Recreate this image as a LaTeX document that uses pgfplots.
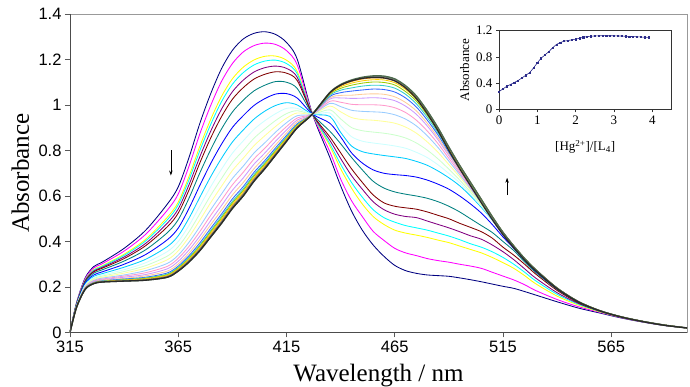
\documentclass[border=0pt]{standalone}
\usepackage{fontspec}
\setmainfont{Liberation Sans}
\newfontfamily\timesfont{Liberation Serif}
\usepackage{pgfplots}
\usepackage{pgfplotstable}
\pgfplotsset{compat=1.18}
\usetikzlibrary{arrows.meta}

\definecolor{col1}{HTML}{000080}
\definecolor{col2}{HTML}{FF00FF}
\definecolor{col3}{HTML}{FFFF00}
\definecolor{col4}{HTML}{00FFFF}
\definecolor{col5}{HTML}{800080}
\definecolor{col6}{HTML}{800000}
\definecolor{col7}{HTML}{008080}
\definecolor{col8}{HTML}{0000FF}
\definecolor{col9}{HTML}{00CCFF}
\definecolor{col10}{HTML}{CCFFFF}
\definecolor{col11}{HTML}{CCFFCC}
\definecolor{col12}{HTML}{FFFF99}
\definecolor{col13}{HTML}{99CCFF}
\definecolor{col14}{HTML}{FF99CC}
\definecolor{col15}{HTML}{CC99FF}
\definecolor{col16}{HTML}{FFCC99}
\definecolor{col17}{HTML}{3366FF}
\definecolor{col18}{HTML}{33CCCC}
\definecolor{col19}{HTML}{99CC00}
\definecolor{col20}{HTML}{FFCC00}
\definecolor{col21}{HTML}{FF9900}
\definecolor{col22}{HTML}{808080}
\definecolor{col23}{HTML}{4D6B4D}
\definecolor{col24}{HTML}{2A2A2A}
\definecolor{insetcol}{HTML}{2B2B8A}

\pgfplotstableread{
L c1 c2 c3 c4 c5 c6 c7 c8 c9 c10 c11 c12 c13 c14 c15 c16 c17 c18 c19 c20 c21 c22 c23 c24
315 0 0 0 0 0 0 0 0 0 0 0 0 0 0 0 0 0 0 0 0 0 0 0 0
318 0.130 0.128 0.126 0.126 0.125 0.124 0.122 0.120 0.118 0.117 0.116 0.115 0.114 0.113 0.112 0.112 0.111 0.111 0.111 0.111 0.110 0.110 0.110 0.110
322 0.240 0.236 0.231 0.229 0.227 0.225 0.221 0.216 0.211 0.208 0.205 0.202 0.200 0.198 0.196 0.194 0.193 0.192 0.192 0.191 0.191 0.190 0.190 0.190
326 0.290 0.284 0.277 0.274 0.270 0.267 0.261 0.253 0.247 0.241 0.237 0.233 0.229 0.226 0.224 0.221 0.220 0.218 0.218 0.217 0.216 0.216 0.215 0.215
330 0.310 0.303 0.294 0.291 0.287 0.283 0.276 0.267 0.259 0.253 0.248 0.243 0.239 0.235 0.232 0.230 0.227 0.226 0.225 0.224 0.223 0.223 0.222 0.222
340 0.370 0.358 0.344 0.339 0.332 0.325 0.314 0.300 0.287 0.276 0.268 0.261 0.253 0.248 0.243 0.238 0.235 0.233 0.231 0.230 0.228 0.227 0.226 0.226
350 0.450 0.432 0.410 0.403 0.392 0.382 0.364 0.343 0.322 0.307 0.294 0.283 0.272 0.263 0.255 0.249 0.243 0.240 0.238 0.236 0.233 0.232 0.230 0.230
360 0.565 0.538 0.507 0.496 0.481 0.465 0.439 0.408 0.378 0.356 0.336 0.320 0.304 0.291 0.280 0.270 0.262 0.257 0.254 0.251 0.248 0.246 0.243 0.243
365 0.640 0.609 0.573 0.561 0.543 0.525 0.496 0.459 0.425 0.400 0.377 0.359 0.340 0.326 0.313 0.301 0.292 0.287 0.283 0.279 0.276 0.274 0.270 0.270
370 0.770 0.732 0.687 0.672 0.650 0.627 0.591 0.546 0.503 0.471 0.443 0.420 0.397 0.379 0.363 0.349 0.338 0.331 0.326 0.322 0.317 0.315 0.310 0.310
375 0.920 0.874 0.819 0.800 0.773 0.746 0.702 0.647 0.595 0.556 0.522 0.494 0.466 0.444 0.424 0.408 0.394 0.385 0.380 0.374 0.368 0.366 0.360 0.360
380 1.050 0.998 0.937 0.915 0.885 0.855 0.804 0.743 0.685 0.641 0.603 0.571 0.540 0.515 0.492 0.474 0.458 0.448 0.442 0.436 0.429 0.426 0.420 0.420
385 1.160 1.104 1.038 1.015 0.982 0.949 0.895 0.828 0.766 0.718 0.677 0.643 0.609 0.582 0.558 0.538 0.521 0.511 0.504 0.497 0.490 0.487 0.480 0.480
390 1.240 1.182 1.115 1.091 1.058 1.025 0.969 0.901 0.837 0.788 0.747 0.712 0.677 0.649 0.625 0.604 0.587 0.576 0.569 0.562 0.555 0.552 0.545 0.545
395 1.290 1.233 1.166 1.142 1.109 1.076 1.021 0.953 0.890 0.842 0.800 0.766 0.731 0.704 0.679 0.659 0.641 0.631 0.624 0.617 0.610 0.607 0.600 0.600
400 1.315 1.261 1.198 1.176 1.145 1.114 1.062 0.998 0.938 0.893 0.854 0.821 0.789 0.763 0.740 0.720 0.704 0.694 0.688 0.681 0.675 0.672 0.665 0.665
405 1.322 1.272 1.214 1.193 1.164 1.135 1.087 1.028 0.973 0.931 0.895 0.865 0.834 0.810 0.789 0.771 0.756 0.747 0.741 0.735 0.729 0.726 0.720 0.720
410 1.310 1.266 1.215 1.197 1.171 1.146 1.103 1.048 0.998 0.962 0.932 0.906 0.881 0.860 0.841 0.825 0.812 0.804 0.799 0.793 0.788 0.785 0.780 0.780
415 1.275 1.239 1.197 1.182 1.161 1.140 1.100 1.050 1.010 0.985 0.962 0.942 0.922 0.905 0.890 0.877 0.866 0.860 0.855 0.851 0.847 0.844 0.840 0.840
420 1.200 1.175 1.146 1.136 1.121 1.107 1.072 1.030 1.000 0.985 0.975 0.965 0.953 0.943 0.934 0.926 0.918 0.914 0.911 0.908 0.905 0.903 0.900 0.900
427 0.960 0.960 0.960 0.960 0.960 0.960 0.960 0.960 0.960 0.960 0.960 0.960 0.960 0.960 0.960 0.960 0.960 0.960 0.960 0.960 0.960 0.960 0.960 0.960
435 0.770 0.795 0.820 0.830 0.845 0.860 0.885 0.920 0.950 0.965 0.979 0.995 1.007 1.016 1.026 1.031 1.037 1.042 1.047 1.050 1.052 1.054 1.055 1.053
440 0.645 0.675 0.720 0.740 0.765 0.790 0.830 0.860 0.880 0.909 0.939 0.970 0.993 1.012 1.031 1.042 1.054 1.065 1.073 1.080 1.085 1.088 1.090 1.087
445 0.535 0.580 0.635 0.660 0.690 0.720 0.770 0.790 0.820 0.861 0.901 0.945 0.977 1.003 1.029 1.043 1.061 1.075 1.087 1.096 1.103 1.107 1.110 1.106
450 0.450 0.510 0.565 0.595 0.630 0.660 0.715 0.745 0.795 0.841 0.887 0.936 0.972 1.001 1.030 1.047 1.066 1.083 1.096 1.106 1.114 1.119 1.122 1.117
455 0.385 0.445 0.510 0.540 0.575 0.605 0.665 0.715 0.785 0.833 0.881 0.933 0.970 1.001 1.032 1.049 1.070 1.087 1.101 1.111 1.119 1.125 1.128 1.121
460 0.335 0.405 0.475 0.505 0.540 0.570 0.635 0.700 0.778 0.827 0.876 0.928 0.967 0.998 1.029 1.047 1.068 1.085 1.099 1.110 1.118 1.124 1.127 1.119
465 0.295 0.370 0.450 0.485 0.520 0.555 0.618 0.694 0.772 0.820 0.868 0.920 0.957 0.988 1.019 1.036 1.057 1.074 1.088 1.098 1.106 1.112 1.115 1.106
470 0.272 0.350 0.437 0.470 0.510 0.548 0.608 0.690 0.765 0.810 0.855 0.903 0.938 0.967 0.995 1.011 1.031 1.047 1.059 1.069 1.077 1.082 1.085 1.075
475 0.260 0.338 0.428 0.460 0.505 0.542 0.600 0.683 0.752 0.792 0.833 0.876 0.908 0.933 0.959 0.974 0.991 1.005 1.017 1.026 1.033 1.037 1.040 1.028
480 0.253 0.325 0.418 0.450 0.490 0.530 0.590 0.670 0.735 0.769 0.802 0.838 0.865 0.886 0.908 0.920 0.934 0.946 0.956 0.963 0.969 0.973 0.975 0.962
485 0.250 0.316 0.406 0.437 0.475 0.515 0.575 0.652 0.710 0.737 0.763 0.792 0.813 0.830 0.847 0.856 0.868 0.877 0.885 0.891 0.895 0.898 0.900 0.886
490 0.247 0.309 0.395 0.424 0.460 0.500 0.555 0.630 0.680 0.699 0.718 0.738 0.753 0.765 0.777 0.784 0.792 0.799 0.804 0.808 0.812 0.814 0.815 0.800
495 0.240 0.300 0.380 0.408 0.443 0.480 0.530 0.600 0.645 0.658 0.670 0.684 0.694 0.702 0.710 0.714 0.720 0.724 0.728 0.731 0.733 0.734 0.735 0.720
500 0.232 0.292 0.365 0.390 0.425 0.462 0.500 0.565 0.600 0.608 0.617 0.626 0.632 0.638 0.643 0.646 0.650 0.653 0.655 0.657 0.659 0.659 0.660 0.645
505 0.223 0.282 0.350 0.375 0.410 0.443 0.470 0.525 0.550 0.555 0.560 0.565 0.569 0.572 0.575 0.577 0.579 0.581 0.582 0.583 0.584 0.585 0.585 0.570
510 0.213 0.265 0.330 0.355 0.385 0.415 0.440 0.475 0.495 0.497 0.499 0.501 0.503 0.504 0.506 0.507 0.507 0.508 0.509 0.509 0.510 0.510 0.510 0.497
515 0.203 0.248 0.307 0.330 0.355 0.375 0.400 0.420 0.435 0.436 0.436 0.437 0.438 0.438 0.439 0.439 0.440 0.440 0.440 0.440 0.440 0.440 0.440 0.430
520 0.194 0.231 0.282 0.300 0.320 0.340 0.360 0.370 0.378 0.380 0.380 0.380 0.380 0.380 0.380 0.380 0.380 0.380 0.380 0.380 0.380 0.380 0.380 0.372
525 0.180 0.210 0.250 0.265 0.280 0.300 0.310 0.318 0.322 0.325 0.325 0.325 0.325 0.325 0.325 0.325 0.325 0.325 0.325 0.325 0.325 0.325 0.325 0.318
530 0.165 0.185 0.215 0.228 0.240 0.258 0.265 0.270 0.274 0.277 0.277 0.277 0.277 0.277 0.277 0.277 0.277 0.277 0.277 0.277 0.277 0.277 0.277 0.272
540 0.135 0.145 0.160 0.168 0.175 0.185 0.190 0.192 0.194 0.195 0.195 0.195 0.195 0.195 0.195 0.195 0.195 0.195 0.195 0.195 0.195 0.195 0.195 0.192
550 0.107 0.113 0.120 0.124 0.127 0.130 0.132 0.133 0.134 0.135 0.135 0.135 0.135 0.135 0.135 0.135 0.135 0.135 0.135 0.135 0.135 0.135 0.135 0.133
560 0.085 0.088 0.090 0.092 0.093 0.094 0.094 0.095 0.095 0.095 0.095 0.095 0.095 0.095 0.095 0.095 0.095 0.095 0.095 0.095 0.095 0.095 0.095 0.094
570 0.063 0.065 0.066 0.067 0.067 0.068 0.068 0.068 0.068 0.068 0.068 0.068 0.068 0.068 0.068 0.068 0.068 0.068 0.068 0.068 0.068 0.068 0.068 0.067
580 0.045 0.046 0.047 0.047 0.047 0.048 0.048 0.048 0.048 0.048 0.048 0.048 0.048 0.048 0.048 0.048 0.048 0.048 0.048 0.048 0.048 0.048 0.048 0.047
590 0.030 0.031 0.031 0.031 0.031 0.031 0.032 0.032 0.032 0.032 0.032 0.032 0.032 0.032 0.032 0.032 0.032 0.032 0.032 0.032 0.032 0.032 0.032 0.031
600 0.020 0.020 0.020 0.020 0.020 0.020 0.020 0.020 0.020 0.020 0.020 0.020 0.020 0.020 0.020 0.020 0.020 0.020 0.020 0.020 0.020 0.020 0.020 0.020
}\spectra

\pgfplotstableread{
x A
0.0 0.270
0.1 0.310
0.2 0.350
0.3 0.380
0.4 0.410
0.5 0.440
0.6 0.480
0.7 0.520
0.8 0.560
0.9 0.630
1.0 0.710
1.1 0.780
1.2 0.830
1.3 0.880
1.4 0.940
1.5 0.990
1.6 1.020
1.7 1.040
1.8 1.050
1.9 1.060
2.0 1.070
2.1 1.085
2.2 1.100
2.3 1.110
2.4 1.115
2.5 1.120
2.6 1.122
2.7 1.124
2.8 1.124
2.9 1.123
3.0 1.122
3.1 1.120
3.2 1.118
3.3 1.115
3.4 1.112
3.5 1.110
3.6 1.107
3.7 1.104
3.8 1.100
3.9 1.098
}\titration

\begin{document}
\begin{tikzpicture}
\begin{axis}[
  at={(0pt,0pt)}, anchor=south west,
  scale only axis, width=617pt, height=318.5pt,
  xmin=315, xmax=600, ymin=0, ymax=1.4,
  xtick={315,365,415,465,515,565},
  ytick={0,0.2,0.4,0.6,0.8,1,1.2,1.4},
  tick pos=left, tick align=outside,
  major tick length=5pt,
  axis line style={draw=black!40, line width=0.8pt},
  tick style={black!65, line width=0.8pt},
  /pgf/number format/assume math mode=true,
  yticklabel style={/pgf/number format/fixed, /pgf/number format/precision=1},
  tick label style={font=\fontsize{16.5}{16.5}\selectfont},
  xlabel={Wavelength / nm}, ylabel={Absorbance},
  label style={font=\fontsize{25}{25}\selectfont\timesfont, inner sep=0pt},
  xlabel style={at={(axis description cs:0.5,-0.0985)}, anchor=north},
  ylabel style={at={(axis description cs:-0.066,0.5)}, anchor=south},
]
\pgfplotsinvokeforeach{1,...,21}{
  \addplot[color=col#1, line width=0.85pt, smooth, tension=0.5] table[x=L, y=c#1] {\spectra};
}
\pgfplotsinvokeforeach{22,...,24}{
  \addplot[color=col#1, line width=1.3pt, smooth, tension=0.5] table[x=L, y=c#1] {\spectra};
}
\draw[black!70, line width=0.8pt] (rel axis cs:0,1) -- (rel axis cs:0,0) -- (rel axis cs:1,0);
\draw[black, line width=0.6pt, -{Stealth[length=5pt,width=3.5pt]}] (axis cs:361.6,0.80) -- (axis cs:361.6,0.69);
\draw[black, line width=0.6pt, -{Stealth[length=5pt,width=3.5pt]}] (axis cs:516.9,0.604) -- (axis cs:516.9,0.68);
\end{axis}

\begin{axis}[
  at={(429pt,223.2pt)}, anchor=south west,
  scale only axis, width=172.4pt, height=78.6pt,
  xmin=0, xmax=4.5, ymin=0, ymax=1.2,
  xtick={0,1,2,3,4}, ytick={0,0.4,0.8,1.2},
  tick pos=left, tick align=outside, major tick length=3pt,
  axis line style={black!80, line width=0.7pt},
  tick style={black!80, line width=0.7pt},
  /pgf/number format/assume math mode=true,
  yticklabel style={/pgf/number format/fixed, /pgf/number format/precision=1},
  tick label style={font=\fontsize{13}{13}\selectfont\timesfont},
  xlabel={[Hg\textsuperscript{2+}]/[L\textsubscript{4}]},
  ylabel={Absorbance},
  label style={font=\fontsize{13}{13}\selectfont\timesfont},
  xlabel style={at={(axis description cs:0.5,-0.48)}, anchor=center},
]
\addplot[color=insetcol, line width=0.6pt, mark=square*, mark size=0.6pt] table[x=x, y=A] {\titration};
\end{axis}
\pgfresetboundingbox
\path[use as bounding box] (-70pt,-54.5pt) rectangle (620pt,332.5pt);
\end{tikzpicture}
\end{document}
